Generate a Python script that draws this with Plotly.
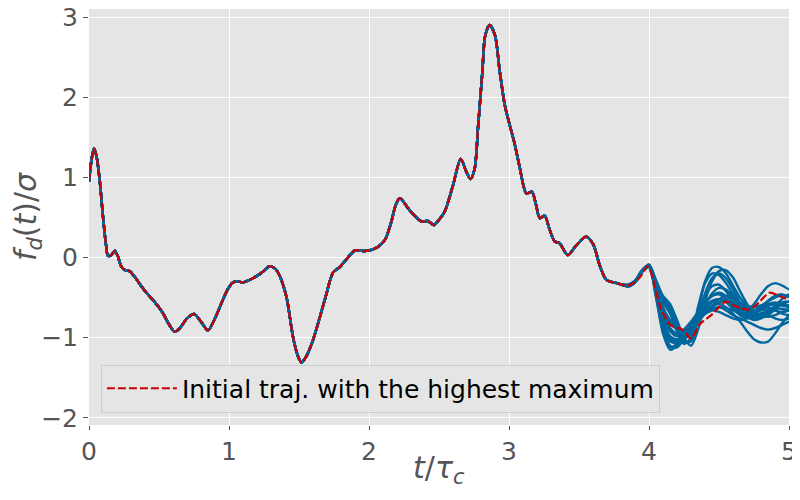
import plotly.graph_objects as go

## Data

# Reference trajectory (red dashed), shared start of all ensemble members
T_BASE = [0.00, 0.018, 0.036, 0.055, 0.076, 0.10, 0.12, 0.136, 0.16, 0.184, 0.205, 0.23,
          0.26, 0.29, 0.33, 0.374, 0.41, 0.446, 0.49, 0.53, 0.57, 0.612, 0.65, 0.70,
          0.75, 0.80, 0.85, 0.90, 0.946, 0.99, 1.03, 1.06, 1.10, 1.18, 1.24, 1.29,
          1.33, 1.36, 1.41, 1.457, 1.49, 1.517, 1.55, 1.60, 1.684, 1.743, 1.79, 1.85,
          1.90, 1.97, 2.04, 2.09, 2.12, 2.16, 2.19, 2.22, 2.29, 2.374, 2.42, 2.464,
          2.50, 2.54, 2.60, 2.655, 2.695, 2.726, 2.755, 2.78, 2.81, 2.83, 2.862, 2.90,
          2.934, 2.97, 3.01, 3.04, 3.076, 3.124, 3.164, 3.19, 3.22, 3.255, 3.29, 3.326,
          3.36, 3.42, 3.48, 3.55, 3.60, 3.65, 3.696, 3.77]
F_BASE = [0.95, 1.22, 1.36, 1.25, 0.97, 0.51, 0.18, 0.02, 0.03, 0.085, 0.02, -0.11,
          -0.16, -0.17, -0.25, -0.36, -0.44, -0.51, -0.60, -0.70, -0.83, -0.925, -0.88, -0.76,
          -0.705, -0.80, -0.91, -0.76, -0.57, -0.40, -0.31, -0.30, -0.31, -0.25, -0.18, -0.11,
          -0.14, -0.22, -0.49, -0.99, -1.22, -1.31, -1.24, -1.03, -0.53, -0.19, -0.12, 0.00,
          0.09, 0.08, 0.11, 0.17, 0.24, 0.45, 0.65, 0.74, 0.59, 0.45, 0.455, 0.405,
          0.47, 0.57, 0.90, 1.23, 1.07, 0.98, 1.11, 1.65, 2.32, 2.77, 2.90, 2.77,
          2.32, 1.90, 1.62, 1.42, 1.13, 0.80, 0.82, 0.68, 0.49, 0.52, 0.35, 0.20,
          0.18, 0.03, 0.15, 0.26, 0.17, -0.11, -0.28, -0.32]

# Tail of the reference trajectory
T_REF_TAIL = [3.85, 3.93, 3.99, 4.03, 4.08, 4.15, 4.24, 4.30, 4.36, 4.457, 4.55, 4.62,
              4.72, 4.79, 4.86, 4.93, 5.00]
F_REF_TAIL = [-0.35, -0.26, -0.11, -0.28, -0.61, -0.84, -0.90, -1.01, -0.84, -0.70, -0.55, -0.61,
              -0.65, -0.55, -0.44, -0.48, -0.53]

# Ensemble members after they separate from the reference
T_TAIL = [3.85, 3.90, 3.95, 4.00, 4.05, 4.10, 4.15, 4.20, 4.25, 4.30, 4.35, 4.40,
          4.45, 4.50, 4.55, 4.60, 4.65, 4.70, 4.75, 4.80, 4.85, 4.90, 4.95, 5.00]
MEMBER_TAILS = [
    [-0.36, -0.31, -0.18, -0.12, -0.50, -0.95, -1.15, -1.10, -0.95, -0.82, -0.74, -0.70, -0.66, -0.62, -0.63, -0.66, -0.70, -0.72, -0.70, -0.66, -0.64, -0.66, -0.70, -0.72],
    [-0.35, -0.30, -0.17, -0.11, -0.45, -0.90, -1.10, -1.12, -1.02, -0.88, -0.76, -0.70, -0.66, -0.68, -0.72, -0.76, -0.78, -0.76, -0.72, -0.70, -0.72, -0.76, -0.78, -0.76],
    [-0.34, -0.29, -0.16, -0.09, -0.30, -0.50, -0.62, -0.85, -1.05, -1.05, -0.70, -0.30, -0.13, -0.12, -0.20, -0.35, -0.50, -0.60, -0.62, -0.60, -0.55, -0.50, -0.47, -0.48],
    [-0.35, -0.30, -0.17, -0.10, -0.28, -0.48, -0.58, -0.78, -1.00, -1.10, -0.90, -0.55, -0.30, -0.17, -0.16, -0.25, -0.42, -0.58, -0.70, -0.75, -0.72, -0.65, -0.58, -0.55],
    [-0.36, -0.31, -0.18, -0.11, -0.40, -0.75, -0.92, -0.98, -0.90, -0.80, -0.68, -0.56, -0.48, -0.46, -0.52, -0.62, -0.68, -0.66, -0.58, -0.46, -0.36, -0.32, -0.35, -0.40],
    [-0.35, -0.30, -0.17, -0.10, -0.38, -0.78, -0.98, -1.02, -0.94, -0.84, -0.74, -0.66, -0.60, -0.58, -0.62, -0.70, -0.80, -0.92, -1.02, -1.06, -1.05, -0.95, -0.82, -0.72],
    [-0.36, -0.31, -0.18, -0.12, -0.42, -0.82, -1.00, -1.03, -0.95, -0.85, -0.72, -0.58, -0.48, -0.44, -0.48, -0.56, -0.62, -0.64, -0.62, -0.60, -0.62, -0.66, -0.68, -0.66],
    [-0.34, -0.29, -0.16, -0.09, -0.32, -0.56, -0.70, -0.92, -1.08, -1.00, -0.62, -0.32, -0.20, -0.22, -0.32, -0.46, -0.58, -0.64, -0.66, -0.64, -0.60, -0.58, -0.60, -0.62],
    [-0.35, -0.30, -0.17, -0.10, -0.35, -0.65, -0.82, -0.90, -0.98, -0.96, -0.80, -0.60, -0.45, -0.38, -0.40, -0.50, -0.62, -0.72, -0.76, -0.74, -0.68, -0.62, -0.58, -0.60],
    [-0.36, -0.31, -0.18, -0.11, -0.48, -0.92, -1.12, -1.08, -0.96, -0.86, -0.78, -0.70, -0.62, -0.56, -0.54, -0.58, -0.66, -0.74, -0.78, -0.76, -0.70, -0.62, -0.56, -0.55],
    [-0.35, -0.30, -0.17, -0.10, -0.36, -0.70, -0.88, -0.96, -1.02, -0.92, -0.70, -0.48, -0.36, -0.34, -0.42, -0.55, -0.66, -0.70, -0.68, -0.62, -0.54, -0.48, -0.46, -0.50],
    [-0.36, -0.31, -0.17, -0.11, -0.44, -0.86, -1.05, -1.06, -0.98, -0.88, -0.78, -0.70, -0.64, -0.62, -0.66, -0.72, -0.76, -0.80, -0.84, -0.88, -0.90, -0.88, -0.84, -0.80],
    [-0.35, -0.30, -0.16, -0.09, -0.30, -0.52, -0.66, -0.88, -1.06, -1.04, -0.78, -0.45, -0.26, -0.20, -0.26, -0.40, -0.56, -0.66, -0.70, -0.70, -0.66, -0.60, -0.52, -0.46],
    [-0.36, -0.31, -0.18, -0.11, -0.40, -0.80, -1.02, -1.06, -0.98, -0.86, -0.74, -0.64, -0.56, -0.52, -0.54, -0.60, -0.66, -0.68, -0.66, -0.62, -0.58, -0.56, -0.58, -0.62],
    [-0.35, -0.30, -0.17, -0.10, -0.34, -0.62, -0.78, -0.88, -0.92, -0.86, -0.74, -0.62, -0.54, -0.52, -0.56, -0.64, -0.72, -0.76, -0.74, -0.70, -0.66, -0.64, -0.64, -0.66],
    [-0.35, -0.30, -0.17, -0.10, -0.38, -0.72, -0.90, -0.96, -0.94, -0.88, -0.80, -0.70, -0.60, -0.52, -0.48, -0.50, -0.56, -0.62, -0.68, -0.72, -0.74, -0.72, -0.68, -0.64],
]

LEGEND_LABEL = "Initial traj. with the highest maximum"
X_TITLE = "<i>t</i>/<i>τ</i><sub><i>c</i></sub>"
Y_TITLE = "<i>f</i><sub><i>d</i></sub>(<i>t</i>)/<i>σ</i>"
X_TICKS = [0, 1, 2, 3, 4, 5]
Y_TICKS = [-2, -1, 0, 1, 2, 3]

BLUE = "#00679E"
RED = "#CC0000"

## Create figure
fig = go.Figure()

# Ensemble of perturbed trajectories
for tail in MEMBER_TAILS:
    fig.add_trace(go.Scatter(
        x=T_BASE + T_TAIL, y=F_BASE + tail, mode="lines",
        line=dict(color=BLUE, width=2.4, shape="spline", smoothing=0.8),
        showlegend=False, hoverinfo="skip"))

# Reference trajectory
fig.add_trace(go.Scatter(
    x=T_BASE + T_REF_TAIL, y=F_BASE + F_REF_TAIL, mode="lines", name=LEGEND_LABEL,
    line=dict(color=RED, width=2.2, dash="8px,3px", shape="spline", smoothing=0.8)))

# page body has an 8px margin, so the figure is sized to fit the 800x500 window
fig.update_layout(
    width=792, height=492,
    margin=dict(l=81, r=11, t=1, b=75, autoexpand=False),
    paper_bgcolor="white", plot_bgcolor="#E5E5E5",
    font=dict(family="DejaVu Sans", color="#555555", size=25),
    legend=dict(x=0.017, y=0.03, xanchor="left", yanchor="bottom", itemwidth=70,
                bgcolor="rgba(229,229,229,0.85)", bordercolor="#CCCCCC", borderwidth=1,
                font=dict(size=25, color="black")),
)
fig.update_xaxes(
    range=[0, 5], tickvals=X_TICKS, showgrid=True, gridcolor="white", gridwidth=1.3,
    zeroline=False, showline=False, ticks="outside", ticklen=4, tickcolor="#555555",
    tickfont=dict(size=25, color="#555555"), automargin=False, ticklabeloverflow="allow")
fig.update_yaxes(
    range=[-2.09, 3.1], tickvals=Y_TICKS, showgrid=True, gridcolor="white", gridwidth=1.3,
    zeroline=False, showline=False, ticks="outside", ticklen=5, tickcolor="#555555",
    tickfont=dict(size=25, color="#555555"), automargin=False, ticklabeloverflow="allow",
    title=dict(text=Y_TITLE, font=dict(size=30), standoff=8))

# x-axis title as an annotation, a little closer to the tick labels than plotly's own
fig.add_annotation(text=X_TITLE, xref="paper", yref="paper", x=0.5, y=-0.108,
                   xanchor="center", yanchor="middle", showarrow=False,
                   font=dict(size=30, color="#555555"))

fig.write_html("out.html")
